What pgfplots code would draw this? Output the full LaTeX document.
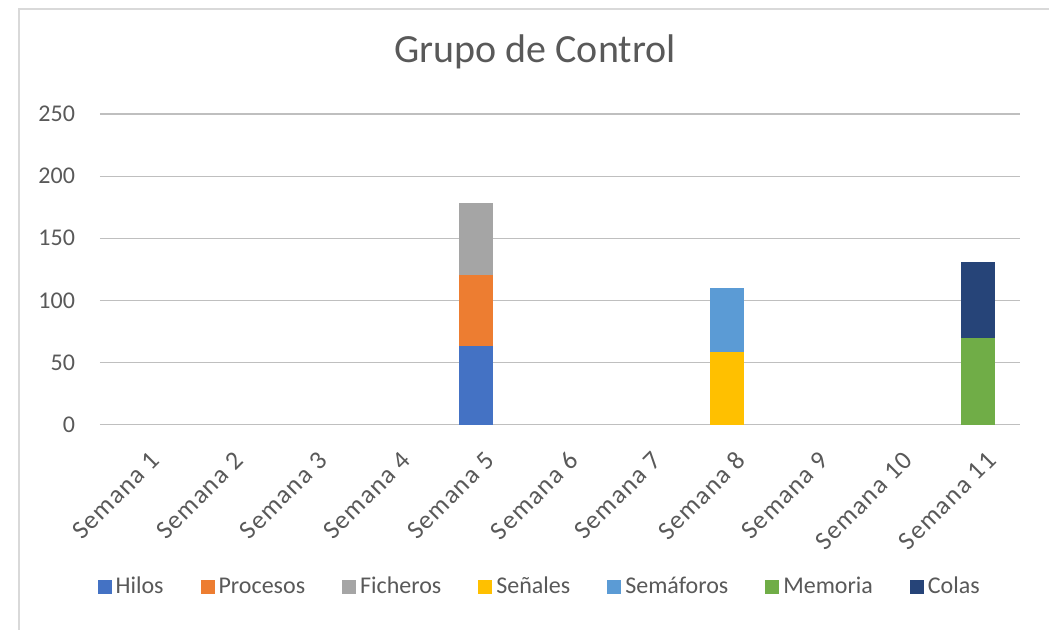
\documentclass[border=0pt]{standalone}
\usepackage{fontspec}
\setmainfont{Carlito}
\usepackage{pgfplots}
\usepackage{pgfplotstable}
\pgfplotsset{compat=1.18}

\definecolor{cHilos}{HTML}{4472C4}
\definecolor{cProc}{HTML}{ED7D31}
\definecolor{cFich}{HTML}{A5A5A5}
\definecolor{cSen}{HTML}{FFC000}
\definecolor{cSem}{HTML}{5B9BD5}
\definecolor{cMem}{HTML}{70AD47}
\definecolor{cCol}{HTML}{264478}
\definecolor{txt}{HTML}{595959}
\definecolor{grid}{HTML}{D9D9D9}

% semanas 1..11, valores por tema
\pgfplotstableread{
x Hilos Procesos Ficheros Senales Semaforos Memoria Colas
1  0  0  0  0  0  0  0
2  0  0  0  0  0  0  0
3  0  0  0  0  0  0  0
4  0  0  0  0  0  0  0
5  63 57 58 0  0  0  0
6  0  0  0  0  0  0  0
7  0  0  0  0  0  0  0
8  0  0  0  58 52 0  0
9  0  0  0  0  0  0  0
10 0  0  0  0  0  0  0
11 0  0  0  0  0  70 61
}\datos

\begin{document}
\begin{tikzpicture}
\begin{axis}[
    at={(0pt,0pt)}, anchor=origin,
    scale only axis,
    width=460pt, height=155.25pt,
    ybar stacked,
    bar width=17pt,
    xmin=0.5, xmax=11.5,
    ymin=0, ymax=250,
    ytick={0,50,...,250},
    xtick={1,...,11},
    xticklabels={Semana 1,Semana 2,Semana 3,Semana 4,Semana 5,Semana 6,Semana 7,Semana 8,Semana 9,Semana 10,Semana 11},
    major tick length=0pt,
    axis line style={draw=none},
    ymajorgrids,
    xmajorgrids=false,
    grid style={grid, line width=0.6pt},
    /pgf/number format/assume math mode=true,
    tick label style={font=\fontsize{12}{14}\selectfont, text=txt},
    yticklabel style={anchor=east, xshift=-9pt},
    xticklabel style={rotate=45, anchor=east, yshift=-16pt, xshift=-3pt,
        font=\fontsize{13}{15}\selectfont\addfontfeatures{LetterSpace=5}},
    legend style={at={(0.479,-0.523)}, anchor=center, legend columns=-1, draw=none,
        font=\fontsize{12}{14}\selectfont, text=txt,
        /tikz/every even column/.append style={column sep=16.5pt},
        nodes={inner sep=2pt}},
    legend image code/.code={\fill[#1] (0pt,-3.5pt) rectangle (7pt,3.5pt);},
]
\addplot[fill=cHilos, draw=none] table[x=x, y=Hilos] {\datos};
\addplot[fill=cProc, draw=none] table[x=x, y=Procesos] {\datos};
\addplot[fill=cFich, draw=none] table[x=x, y=Ficheros] {\datos};
\addplot[fill=cSen, draw=none] table[x=x, y=Senales] {\datos};
\addplot[fill=cSem, draw=none] table[x=x, y=Semaforos] {\datos};
\addplot[fill=cMem, draw=none] table[x=x, y=Memoria] {\datos};
\addplot[fill=cCol, draw=none] table[x=x, y=Colas] {\datos};
\legend{Hilos,Procesos,Ficheros,Señales,Semáforos,Memoria,Colas}
\end{axis}
\node[text=txt, font=\fontsize{20}{24}\selectfont] at (217.5pt,186.25pt) {Grupo de Control};
\draw[grid, line width=0.8pt] (-40.5pt,-110pt) -- (-40.5pt,207.75pt) -- (480pt,207.75pt);
\pgfresetboundingbox
\useasboundingbox (-50pt,-102.25pt) rectangle (474.5pt,212.25pt);
\end{tikzpicture}
\end{document}
